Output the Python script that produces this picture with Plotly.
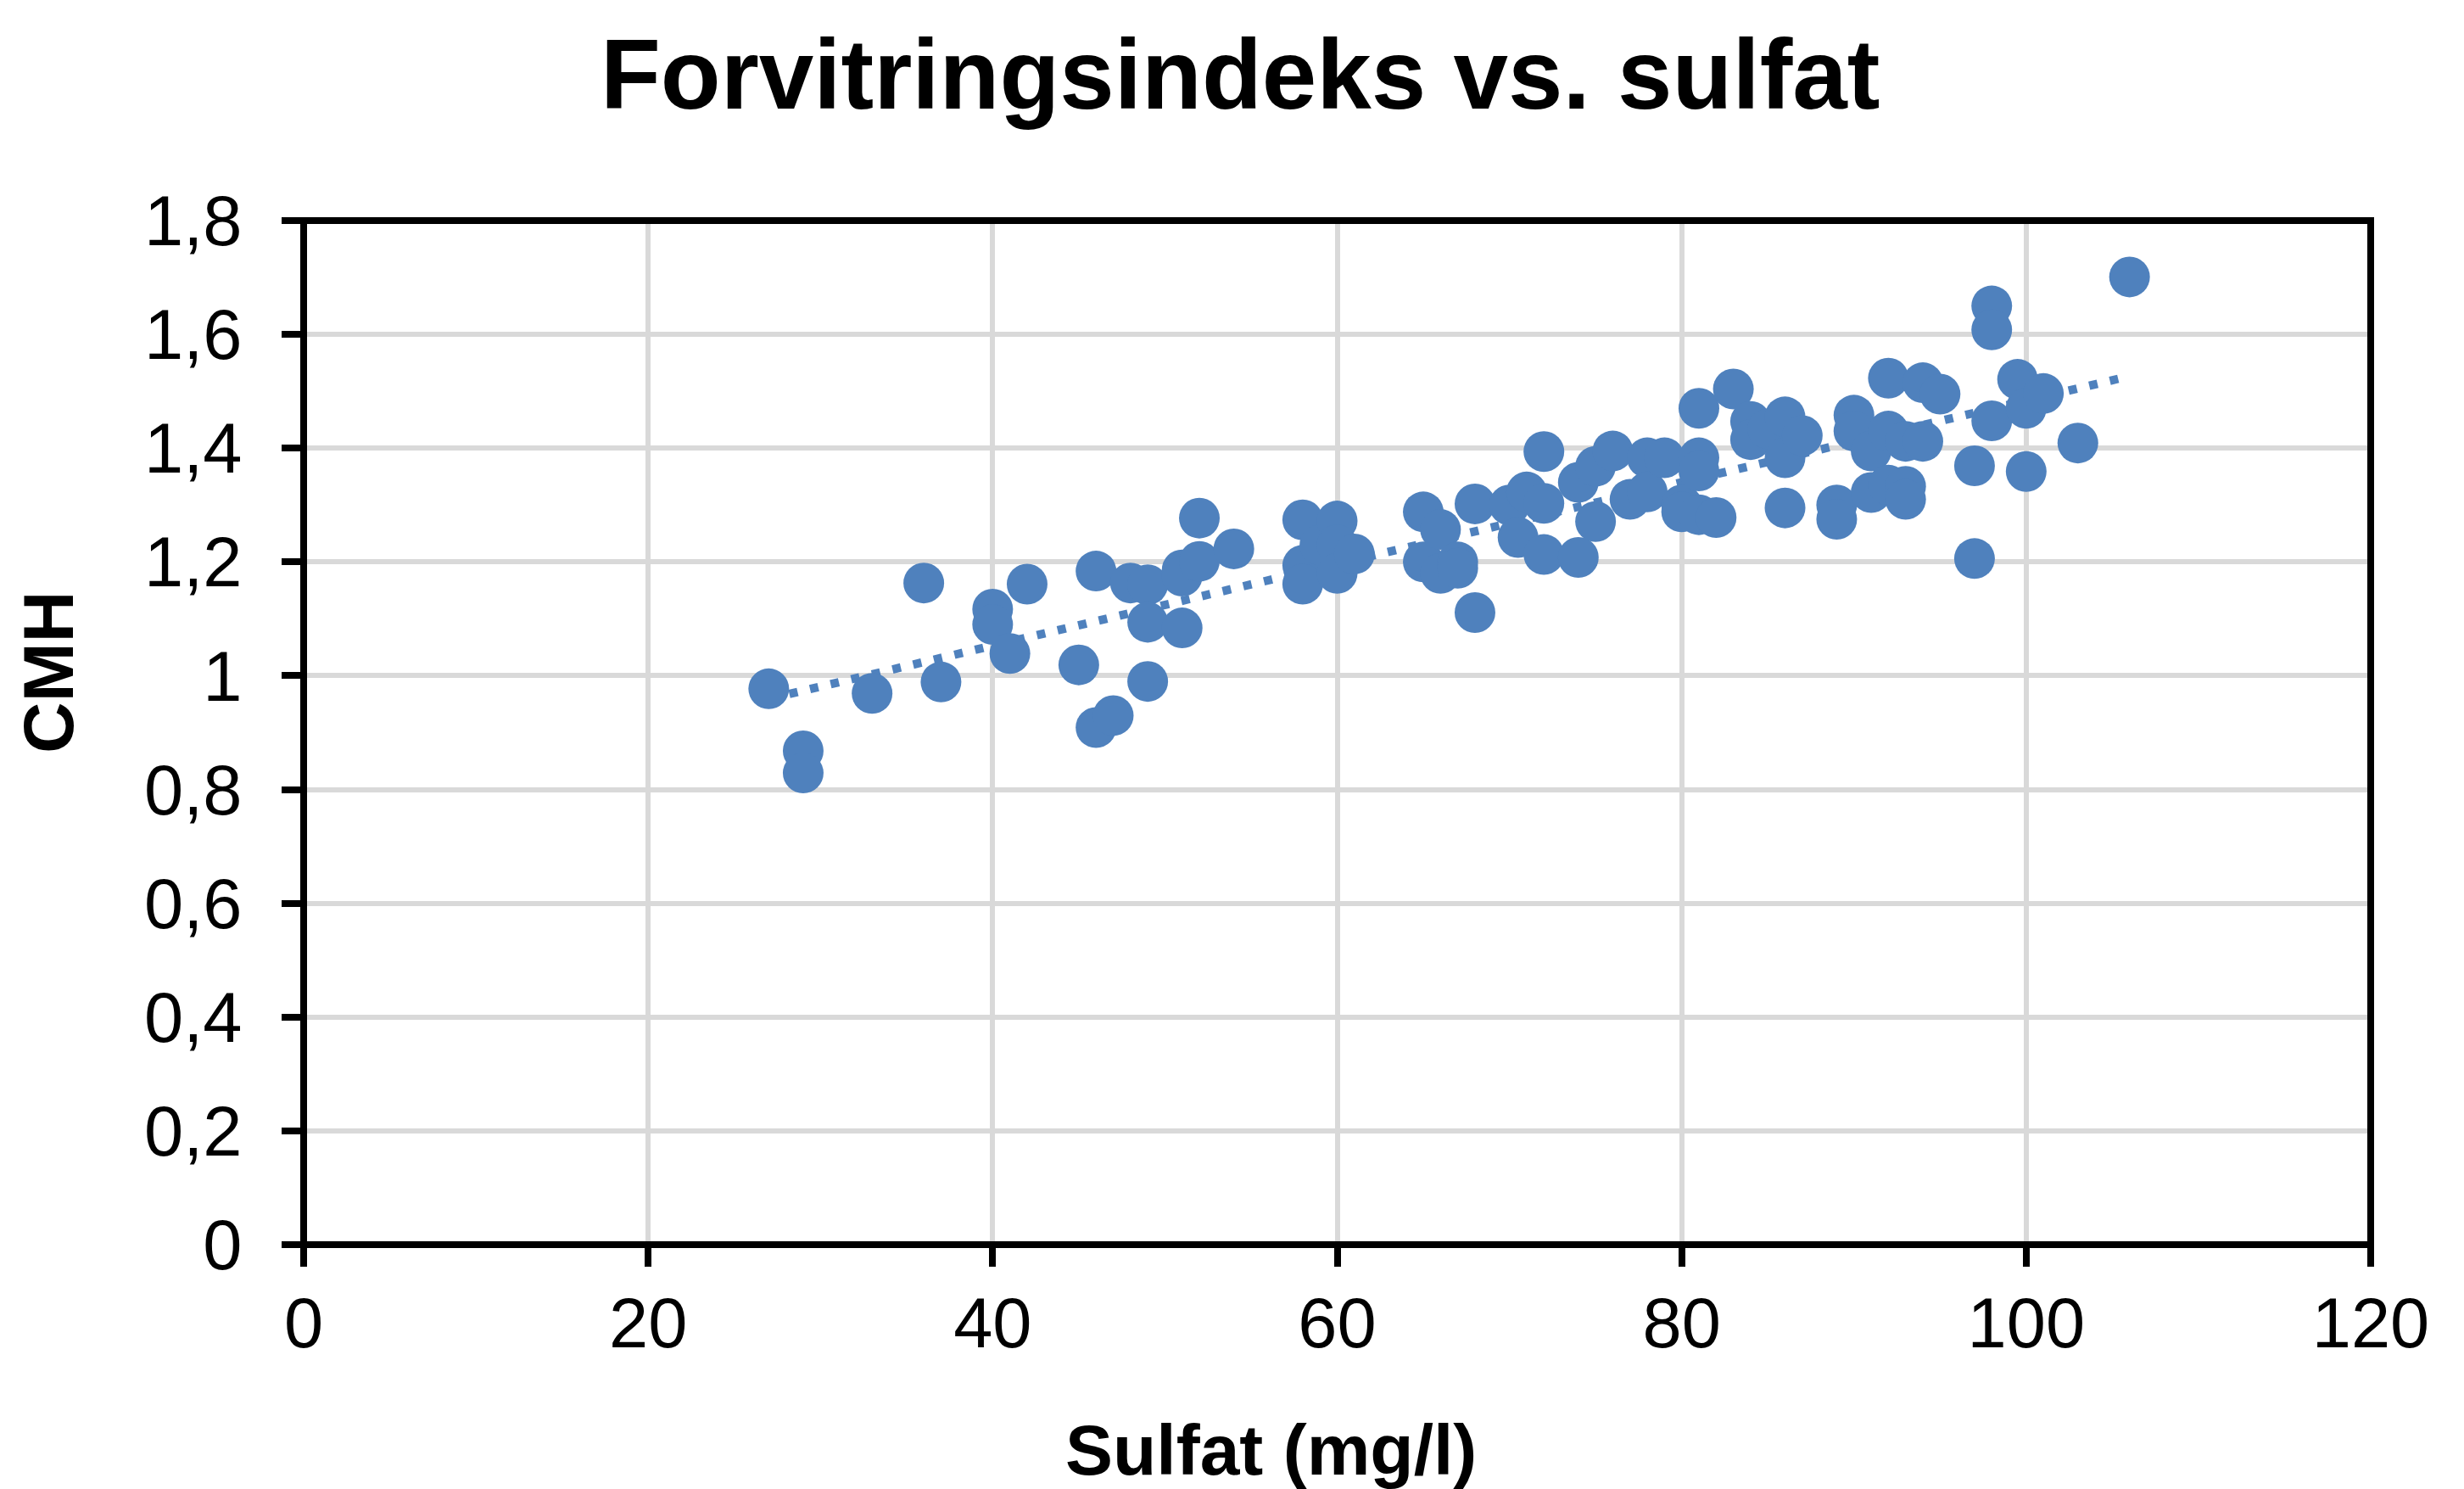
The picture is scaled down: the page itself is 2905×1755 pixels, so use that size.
import numpy as np
import plotly.graph_objects as go

# ---- data ----
sulfat = [27, 29, 29, 33, 36, 37, 40, 40, 41, 42, 45, 46, 46, 47, 48, 49, 49, 49,
          51, 51, 51, 52, 52, 54, 58, 58, 58, 59, 60, 60, 60, 61, 65, 65, 66, 66,
          67, 67, 68, 68, 70, 70.5, 71, 72, 72, 72, 74, 74, 75, 75, 76, 77, 78, 78,
          79, 80, 80, 81, 81, 81, 81, 82, 83, 84, 84, 85, 86, 86, 86, 87, 89, 89,
          90, 90, 91, 91, 92, 92, 92, 93, 93, 93, 94, 94, 95, 97, 97, 98, 98, 98,
          99.5, 100, 100, 101, 103, 106]
cmh = [0.977, 0.868, 0.829, 0.969, 1.163, 0.989, 1.117, 1.090, 1.039, 1.161,
       1.019, 1.184, 0.909, 0.930, 1.163, 1.160, 1.094, 0.990, 1.084, 1.186,
       1.175, 1.277, 1.201, 1.223, 1.274, 1.194, 1.161, 1.23, 1.272, 1.23, 1.18,
       1.214, 1.288, 1.20, 1.257, 1.18, 1.20, 1.189, 1.302, 1.111, 1.30, 1.243,
       1.323, 1.394, 1.303, 1.213, 1.208, 1.34, 1.368, 1.271, 1.395, 1.310,
       1.383, 1.323, 1.383, 1.30, 1.288, 1.470, 1.383, 1.36, 1.283, 1.278, 1.504,
       1.447, 1.415, 1.434, 1.455, 1.383, 1.295, 1.422, 1.30, 1.275, 1.458, 1.43,
       1.395, 1.322, 1.523, 1.43, 1.335, 1.412, 1.333, 1.31, 1.515, 1.412, 1.495,
       1.369, 1.206, 1.650, 1.608, 1.448, 1.521, 1.470, 1.359, 1.496, 1.409, 1.701]

x_tick_vals = [0, 20, 40, 60, 80, 100, 120]
x_tick_text = ["0", "20", "40", "60", "80", "100", "120"]
y_tick_vals = [0, 0.2, 0.4, 0.6, 0.8, 1.0, 1.2, 1.4, 1.6, 1.8]
y_tick_text = ["0", "0,2", "0,4", "0,6", "0,8", "1", "1,2", "1,4", "1,6", "1,8"]

title_text = "Forvitringsindeks vs. sulfat"
x_title = "Sulfat (mg/l)"
y_title = "CMH"

# ---- linear trendline (least squares, like Excel) ----
slope, intercept = np.polyfit(np.array(sulfat), np.array(cmh), 1)
trend_x = [min(sulfat), max(sulfat)]
trend_y = [slope * v + intercept for v in trend_x]

BLUE = "#4F81BD"
FONT = "Liberation Sans, Arial, sans-serif"

W, H = 2905, 1755
pl, pr, pt, pb = 358, 2795, 260, 1467

fig = go.Figure()
fig.add_trace(go.Scatter(
    x=trend_x, y=trend_y, mode="lines",
    line=dict(color=BLUE, width=10, dash="10px,15px"),
    hoverinfo="skip", showlegend=False))
fig.add_trace(go.Scatter(
    x=sulfat, y=cmh, mode="markers",
    marker=dict(color=BLUE, size=48, line=dict(width=0)),
    showlegend=False))

axis_common = dict(
    showline=False,
    ticks="outside", ticklen=25, tickwidth=8, tickcolor="black",
    showgrid=True, gridcolor="#D9D9D9", gridwidth=6,
    zeroline=False,
    tickfont=dict(family=FONT, size=83, color="black"),
)

fig.update_xaxes(range=[0, 120], tickmode="array", tickvals=x_tick_vals,
                 ticktext=x_tick_text, ticklabelstandoff=-5, **axis_common)
fig.update_yaxes(range=[0, 1.8], tickmode="array", tickvals=y_tick_vals,
                 ticktext=y_tick_text, ticklabelstandoff=30, **axis_common)

fig.update_layout(
    width=W, height=H,
    margin=dict(l=pl, r=W - pr, t=pt, b=H - pb, autoexpand=False),
    paper_bgcolor="white", plot_bgcolor="white",
    showlegend=False,
    shapes=[dict(type="rect", xref="paper", yref="paper", x0=0, x1=1, y0=0, y1=1,
                 line=dict(color="black", width=8), fillcolor="rgba(0,0,0,0)",
                 layer="above")],
)

def px_to_paper_x(px):
    return (px - pl) / (pr - pl)

def px_to_paper_y(py):
    return (pb - py) / (pb - pt)

fig.update_layout(annotations=[
    dict(text=f"<b>{title_text}</b>", xref="paper", yref="paper",
         x=px_to_paper_x(1462), y=px_to_paper_y(88), xanchor="center", yanchor="middle",
         showarrow=False, font=dict(family=FONT, size=116, color="black")),
    dict(text=f"<b>{x_title}</b>", xref="paper", yref="paper",
         x=px_to_paper_x(1498), y=px_to_paper_y(1709), xanchor="center", yanchor="middle",
         showarrow=False, font=dict(family=FONT, size=84, color="black")),
    dict(text=f"<b>{y_title}</b>", xref="paper", yref="paper",
         x=px_to_paper_x(57), y=px_to_paper_y(793), xanchor="center", yanchor="middle",
         textangle=-90,
         showarrow=False, font=dict(family=FONT, size=84, color="black")),
])

fig.write_html("out.html")
